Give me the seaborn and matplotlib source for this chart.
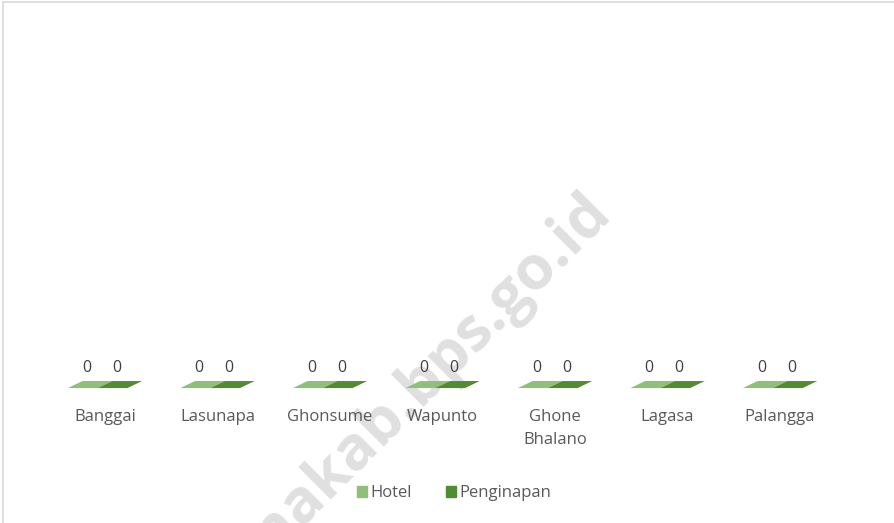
import pandas as pd
import matplotlib
matplotlib.use("Agg")
import matplotlib.pyplot as plt
import seaborn as sns
from matplotlib.patches import Polygon

kecamatan = ["Banggai", "Lasunapa", "Ghonsume", "Wapunto", "Ghone\nBhalano", "Lagasa", "Palangga"]
hotel = [0, 0, 0, 0, 0, 0, 0]
penginapan = [0, 0, 0, 0, 0, 0, 0]

df = pd.DataFrame({
    "kecamatan": kecamatan * 2,
    "jenis": ["Hotel"] * len(kecamatan) + ["Penginapan"] * len(kecamatan),
    "jumlah": hotel + penginapan,
})

warna = {"Hotel": "#8fbf78", "Penginapan": "#518c32"}

sns.set_style("white")
plt.rcParams["font.family"] = ["Open Sans", "DejaVu Sans"]

fig = plt.figure(figsize=(8.94, 5.23), dpi=100)
ax = fig.add_axes([0.0545, 0.258, 0.881, 0.672])
ax.set_facecolor("none")

sns.barplot(data=df, x="kecamatan", y="jumlah", hue="jenis", palette=warna,
            width=0.53, ax=ax, legend=False)

ax.set_xlim(-0.5, 6.5)
ax.set_ylim(0, 1)

# lantai 3D tiap batang (nilainya nol semua)
miring = 0.13
tebal = 0.02
trans = ax.get_xaxis_transform()
for cont, jenis in zip(ax.containers, ["Hotel", "Penginapan"]):
    for bar, val in zip(cont, df.loc[df.jenis == jenis, "jumlah"]):
        x0 = bar.get_x() - miring / 2
        w = bar.get_width()
        poly = Polygon([(x0, 0), (x0 + w, 0), (x0 + w + miring, tebal), (x0 + miring, tebal)],
                       closed=True, transform=trans, facecolor=warna[jenis],
                       edgecolor="none", clip_on=False)
        ax.add_patch(poly)
        ax.text(bar.get_x() + w / 2 - 0.03, 0.035, f"{val:g}", transform=trans,
                ha="center", va="bottom", fontsize=11.5, color="#404040")

sns.despine(ax=ax, left=True, bottom=True)
ax.set_yticks([])
ax.set_xlabel("")
ax.set_ylabel("")
ax.tick_params(axis="x", length=0, pad=15, labelsize=12, labelcolor="#595959")
for lbl in ax.get_xticklabels():
    lbl.set_linespacing(1.6)
    lbl.set_verticalalignment("top")

handles = [plt.Rectangle((0, 0), 1, 1, color=warna[k]) for k in ["Hotel", "Penginapan"]]
fig.legend(handles, ["Hotel", "Penginapan"], loc="center", bbox_to_anchor=(0.508, 0.057),
           ncol=2, frameon=False, fontsize=12, handlelength=0.65, handleheight=0.65,
           handletextpad=0.2, columnspacing=2.0, labelcolor="#595959")

# watermark
fig.text(0.685, 0.591, "munakab.bps.go.id", rotation=45, rotation_mode="anchor",
         ha="right", va="baseline", fontsize=44, fontweight="bold",
         color="#e0e0e0", zorder=-1)

# bingkai tipis
fig.add_artist(plt.Line2D([0.003, 1], [0.996, 0.996], color="#d9d9d9", lw=1.2))
fig.add_artist(plt.Line2D([0.003, 0.003], [0, 0.996], color="#d9d9d9", lw=1.2))

fig.savefig("out.png", dpi=100)
